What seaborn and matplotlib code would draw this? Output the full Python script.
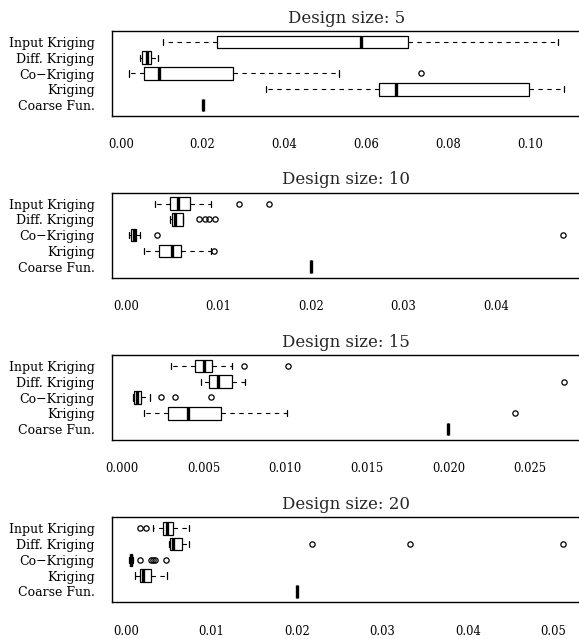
import matplotlib
matplotlib.use("Agg")
import matplotlib.pyplot as plt
import seaborn as sns

sns.set_style("white")
plt.rcParams['font.family'] = ['DejaVu Serif']

methods = ["Input Kriging", "Diff. Kriging", "Co\u2212Kriging", "Kriging", "Coarse Fun."]
design_sizes = [5, 10, 15, 20]

# per design size: [whislo, q1, med, q3, whishi] for each method (same order as methods)
stats_5 = [[0.0103, 0.0235, 0.0586, 0.0702, 0.1068],
           [0.0046, 0.0053, 0.0063, 0.0075, 0.0091],
           [0.0021, 0.0056, 0.0093, 0.0274, 0.0533],
           [0.0356, 0.0632, 0.0672, 0.0997, 0.1083],
           [0.0200, 0.0200, 0.0200, 0.0200, 0.0200]]
fliers_5 = [[], [], [0.0734], [], []]

stats_10 = [[0.00316, 0.00479, 0.00559, 0.00695, 0.00915],
            [0.00475, 0.00503, 0.00531, 0.00615, 0.00620],
            [0.00036, 0.00056, 0.00084, 0.00108, 0.00156],
            [0.00196, 0.00356, 0.00499, 0.00591, 0.00922],
            [0.0200, 0.0200, 0.0200, 0.0200, 0.0200]]
fliers_10 = [[0.01218, 0.01549], [0.00787, 0.00850, 0.00903, 0.00958],
             [0.00332, 0.04727], [0.00955], []]

stats_15 = [[0.00301, 0.00446, 0.00502, 0.00554, 0.00674],
            [0.00486, 0.00534, 0.00588, 0.00672, 0.00751],
            [0.00070, 0.00075, 0.00093, 0.00115, 0.00172],
            [0.00138, 0.00285, 0.00405, 0.00604, 0.01013],
            [0.0200, 0.0200, 0.0200, 0.0200, 0.0200]]
fliers_15 = [[0.00746, 0.01016], [0.02706], [0.00240, 0.00328, 0.00545],
             [0.02409], []]

stats_20 = [[0.00311, 0.00428, 0.00480, 0.00549, 0.00743],
            [0.00502, 0.00515, 0.00553, 0.00653, 0.00735],
            [0.00035, 0.00043, 0.00057, 0.00074, 0.00082],
            [0.00104, 0.00160, 0.00203, 0.00298, 0.00480],
            [0.0200, 0.0200, 0.0200, 0.0200, 0.0200]]
fliers_20 = [[0.00169, 0.00229], [0.02178, 0.03319, 0.05116],
             [0.00164, 0.00298, 0.00318, 0.00345, 0.00463], [], []]

all_stats = [stats_5, stats_10, stats_15, stats_20]
all_fliers = [fliers_5, fliers_10, fliers_15, fliers_20]
xticks = [[0.00, 0.02, 0.04, 0.06, 0.08, 0.10],
          [0.00, 0.01, 0.02, 0.03, 0.04],
          [0.000, 0.005, 0.010, 0.015, 0.020, 0.025],
          [0.00, 0.01, 0.02, 0.03, 0.04, 0.05]]
xticklabels = [["0.00", "0.02", "0.04", "0.06", "0.08", "0.10"],
               ["0.00", "0.01", "0.02", "0.03", "0.04"],
               ["0.000", "0.005", "0.010", "0.015", "0.020", "0.025"],
               ["0.00", "0.01", "0.02", "0.03", "0.04", "0.05"]]
xlims = [(-0.00227, 0.1125), (-0.00156, 0.0492), (-0.00064, 0.02813), (-0.00169, 0.05325)]

W, H = 579, 639
fig = plt.figure(figsize=(W / 100, H / 100), dpi=100)
tops = [31.0, 192.7, 355.0, 517.3]
ax_h = 85.0
left_px, right_px = 111.5, 581.0

for i, ds in enumerate(design_sizes):
    ax = fig.add_axes([left_px / W, 1 - (tops[i] + ax_h) / H,
                       (right_px - left_px) / W, ax_h / H])
    bxpstats = []
    for j, m in enumerate(methods):
        lo, q1, med, q3, hi = all_stats[i][j]
        bxpstats.append(dict(label=m, whislo=lo, q1=q1, med=med, q3=q3,
                             whishi=hi, fliers=all_fliers[i][j]))
    positions = [5, 4, 3, 2, 1]
    ax.bxp(bxpstats, positions=positions, orientation='horizontal',
           widths=0.8, capwidths=0.4, patch_artist=True,
           boxprops=dict(facecolor='white', edgecolor='black', linewidth=0.9),
           whiskerprops=dict(color='black', linewidth=0.8, linestyle=(0, (4, 4))),
           capprops=dict(color='black', linewidth=0.9),
           medianprops=dict(color='black', linewidth=2.4, solid_capstyle='butt'),
           flierprops=dict(marker='o', markerfacecolor='none', markeredgecolor='black',
                           markersize=3.8, markeredgewidth=0.9, linestyle='none'))
    ax.set_ylim(0.3, 5.7)
    ax.set_xlim(*xlims[i])
    ax.set_yticks(positions)
    ax.set_yticklabels(methods, fontsize=9)
    ax.set_xticks(xticks[i])
    ax.set_xticklabels(xticklabels[i], fontsize=8.3)
    ax.tick_params(axis='both', direction='out', length=6, width=0.9,
                   color='black', labelcolor='black')
    ax.tick_params(axis='x', pad=10)
    ax.tick_params(axis='y', pad=6)
    for s in ax.spines.values():
        s.set_color('black')
        s.set_linewidth(1.0)
        s.set_visible(True)
    ax.set_title(f"Design size: {ds}", fontsize=12, pad=6)
    ax.grid(False)

fig.savefig("out.png", dpi=100)
